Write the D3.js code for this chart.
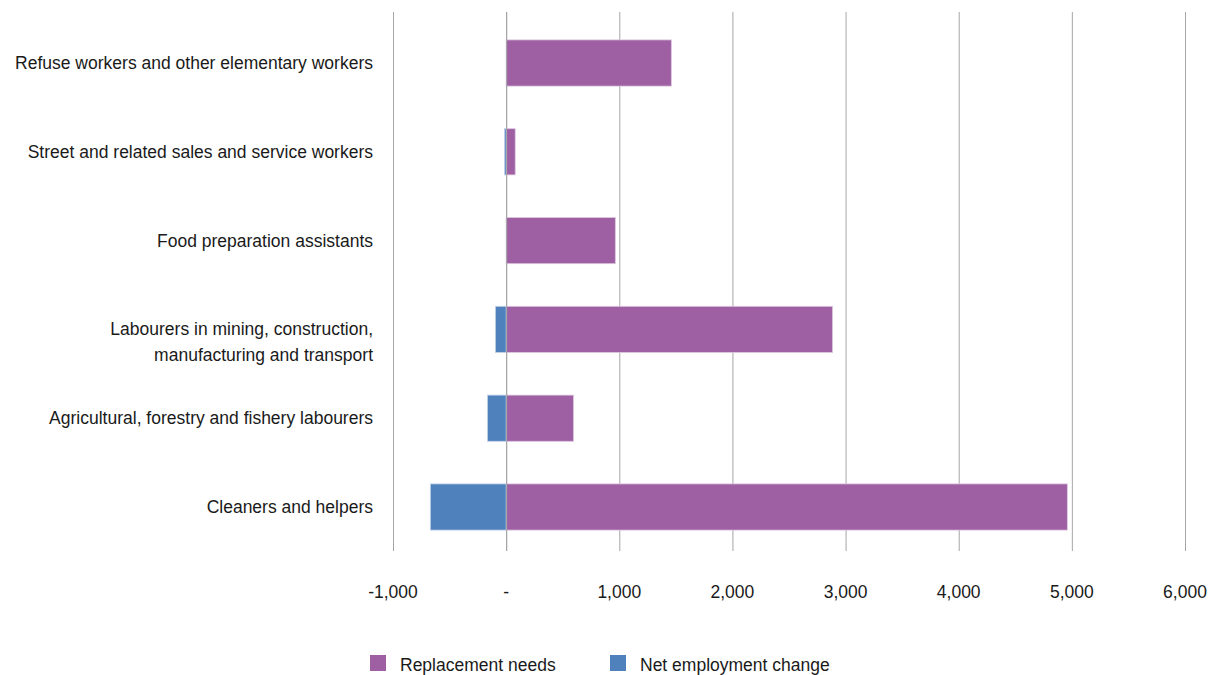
<!DOCTYPE html>
<html>
<head>
<meta charset="utf-8">
<script src="https://cdn.jsdelivr.net/npm/d3@7"></script>
<style>
  html, body { margin: 0; padding: 0; background: #fff; }
  svg { display: block; }
  text { font-family: "Liberation Sans Narrow", "Arial Narrow", "Liberation Sans", sans-serif; fill: #1a1a1a; }
</style>
</head>
<body>
<svg id="chart" width="1211" height="675"></svg>
<script>
// Occupations (top to bottom)
const categories = [
  ["Refuse workers and other elementary workers"],
  ["Street and related sales and service workers"],
  ["Food preparation assistants"],
  ["Labourers in mining, construction,", "manufacturing and transport"],
  ["Agricultural, forestry and fishery labourers"],
  ["Cleaners and helpers"]
];
const replacementNeeds = [1460, 80, 965, 2885, 595, 4960];
const netEmploymentChange = [0, -15, 0, -95, -165, -670];
const tickValues = [-1000, 0, 1000, 2000, 3000, 4000, 5000, 6000];
const seriesNames = ["Replacement needs", "Net employment change"];
const seriesColors = ["#9e5fa3", "#4f81bd"];

const svg = d3.select("#chart");
const plotLeft = 393, plotRight = 1185, plotTop = 12, plotBottom = 551;

const x = d3.scaleLinear().domain([-1000, 6000]).range([plotLeft, plotRight]);
const y = d3.scaleBand().domain(d3.range(categories.length))
  .range([18.6, 551.4]).paddingInner(0.48).paddingOuter(0.24);

// vertical gridlines
svg.append("g").selectAll("line").data(tickValues).join("line")
  .attr("x1", d => x(d) + 0.5).attr("x2", d => x(d) + 0.5)
  .attr("y1", plotTop).attr("y2", plotBottom)
  .attr("stroke", "#a6a6a6").attr("stroke-width", 1);

// tick labels (accounting style: zero shown as a dash, hyphen for negatives)
const fmt = d3.format(",");
const tickText = d => d === 0 ? "-" : (d < 0 ? "-" + fmt(-d) : fmt(d));
svg.append("g").selectAll("text").data(tickValues).join("text")
  .attr("x", d => x(d)).attr("y", 598)
  .attr("text-anchor", "middle")
  .attr("font-size", 17.5)
  .text(tickText);

// bars
const bars = svg.append("g");
bars.selectAll("rect.rep").data(replacementNeeds).join("rect")
  .attr("class", "rep")
  .attr("x", d => x(Math.min(0, d)))
  .attr("width", d => Math.abs(x(d) - x(0)))
  .attr("y", (d, i) => y(i))
  .attr("height", y.bandwidth())
  .attr("fill", seriesColors[0])
  .attr("stroke", "#dcc7de").attr("stroke-width", 0.8);
bars.selectAll("rect.net").data(netEmploymentChange).join("rect")
  .attr("class", "net")
  .attr("x", d => x(Math.min(0, d)))
  .attr("width", d => Math.abs(x(d) - x(0)))
  .attr("y", (d, i) => y(i))
  .attr("height", y.bandwidth())
  .attr("fill", seriesColors[1])
  .attr("stroke", "#c4d3e8").attr("stroke-width", 0.8);

// zero line on top of bars
svg.append("line")
  .attr("x1", x(0) + 0.5).attr("x2", x(0) + 0.5)
  .attr("y1", plotTop).attr("y2", plotBottom)
  .attr("stroke", "#a6a6a6").attr("stroke-width", 1);

// category labels: first line centred on the bar, further lines below
const labels = svg.append("g");
categories.forEach((lines, i) => {
  const cy = y(i) + y.bandwidth() / 2;
  const lh = 26;
  const t = labels.append("text")
    .attr("text-anchor", "end")
    .attr("font-size", 17.5);
  lines.forEach((ln, j) => {
    t.append("tspan")
      .attr("x", 373)
      .attr("y", cy + 6 + j * lh)
      .text(ln);
  });
});

// legend
const legendX = [370, 610];
const lg = svg.append("g");
seriesNames.forEach((name, i) => {
  lg.append("rect").attr("x", legendX[i]).attr("y", 655).attr("width", 16).attr("height", 16)
    .attr("fill", seriesColors[i]);
  lg.append("text").attr("x", legendX[i] + 30).attr("y", 671)
    .attr("font-size", 17.5).text(name);
});
</script>
</body>
</html>
